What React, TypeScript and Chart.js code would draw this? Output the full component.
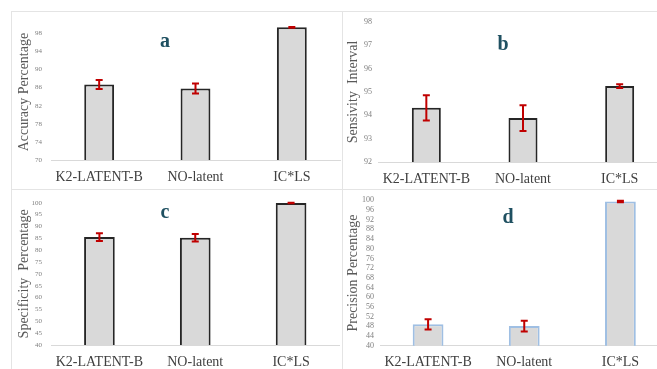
import React, { useEffect, useRef } from 'react';
import { Chart, registerables } from 'chart.js';
Chart.register(...registerables);

const categories = ['K2-LATENT-B', 'NO-latent', 'IC*LS'];

const accuracyValues = [86.7, 85.8, 99.3];
const accuracyErrors = [1.0, 1.1, 0.1];
const accuracyTicks = [70, 74, 78, 82, 86, 90, 94, 98];

const sensitivityValues = [94.32, 93.88, 95.25];
const sensitivityErrors = [0.54, 0.55, 0.08];
const sensitivityTicks = [92, 93, 94, 95, 96, 97, 98];

const specificityValues = [85.5, 85.2, 99.9];
const specificityErrors = [1.6, 1.6, 0.1];
const specificityTicks = [40, 45, 50, 55, 60, 65, 70, 75, 80, 85, 90, 95, 100];

const precisionValues = [48.8, 48.1, 99.5];
const precisionErrors = [2.1, 2.2, 0.3];
const precisionTicks = [40, 44, 48, 52, 56, 60, 64, 68, 72, 76, 80, 84, 88, 92, 96, 100];

const SERIF = '"Liberation Serif", "Times New Roman", serif';

type Panel = {
  letter: string;
  title: string;
  values: number[];
  errors: number[];
  ticks: number[];
  min: number;
  max: number;
  wrap: { left: number; top: number; width: number; height: number };
  canvasW: number;
  canvasH: number;
  padTop: number;
  padRight: number;
  yWidth: number;
  xHeight: number;
  titlePad: number;
  yTickPad: number;
  yTickSize: number;
  barPct: number;
  barBorder: string;
  letterPos: [number, number];
};

const panels: Panel[] = [
  {
    letter: 'a', title: 'Accuracy Percentage', values: accuracyValues, errors: accuracyErrors,
    ticks: accuracyTicks, min: 70, max: 100,
    wrap: { left: 11, top: 11, width: 332, height: 178 }, canvasW: 332, canvasH: 178,
    padTop: 5.4, padRight: 3, yWidth: 40, xHeight: 29, titlePad: 4.6, yTickPad: 9, yTickSize: 7,
    barPct: 0.31, barBorder: '#262626', letterPos: [154, 36.3],
  },
  {
    letter: 'b', title: 'Sensivity  Interval', values: sensitivityValues, errors: sensitivityErrors,
    ticks: sensitivityTicks, min: 92, max: 98,
    wrap: { left: 343, top: 11, width: 314, height: 178 }, canvasW: 330, canvasH: 178,
    padTop: 8, padRight: 5, yWidth: 35, xHeight: 27, titlePad: 1.6, yTickPad: 6, yTickSize: 8,
    barPct: 0.30, barBorder: '#262626', letterPos: [160, 39],
  },
  {
    letter: 'c', title: 'Specificity  Percentage', values: specificityValues, errors: specificityErrors,
    ticks: specificityTicks, min: 40, max: 100,
    wrap: { left: 11, top: 189, width: 332, height: 180 }, canvasW: 332, canvasH: 180,
    padTop: 11.3, padRight: 4, yWidth: 40.5, xHeight: 24, titlePad: 4.6, yTickPad: 9.5, yTickSize: 7,
    barPct: 0.32, barBorder: '#262626', letterPos: [154, 29.3],
  },
  {
    letter: 'd', title: 'Precision Percentage', values: precisionValues, errors: precisionErrors,
    ticks: precisionTicks, min: 40, max: 100,
    wrap: { left: 343, top: 189, width: 314, height: 180 }, canvasW: 330, canvasH: 180,
    padTop: 11.3, padRight: 4.5, yWidth: 37, xHeight: 23.3, titlePad: 1.6, yTickPad: 6, yTickSize: 8,
    barPct: 0.32, barBorder: '#9FBFE3', letterPos: [165, 33.7],
  },
];

function makeErrorPlugin(values: number[], errors: number[]) {
  return {
    id: 'errorBars',
    afterDatasetsDraw(chart: any) {
      const meta = chart.getDatasetMeta(0);
      const y = chart.scales.y;
      const ctx = chart.ctx;
      ctx.save();
      ctx.strokeStyle = '#C00000';
      ctx.lineWidth = 2;
      meta.data.forEach((bar: any, i: number) => {
        const x = bar.x;
        const top = y.getPixelForValue(values[i] + errors[i]);
        const bot = y.getPixelForValue(values[i] - errors[i]);
        ctx.beginPath();
        ctx.moveTo(x, top);
        ctx.lineTo(x, bot);
        ctx.moveTo(x - 3.5, top);
        ctx.lineTo(x + 3.5, top);
        ctx.moveTo(x - 3.5, bot);
        ctx.lineTo(x + 3.5, bot);
        ctx.stroke();
      });
      ctx.restore();
    },
  };
}

function makeLetterPlugin(letter: string, pos: [number, number]) {
  return {
    id: 'panelLetter',
    afterDraw(chart: any) {
      const ctx = chart.ctx;
      ctx.save();
      ctx.fillStyle = '#1F5061';
      ctx.font = `bold 20px ${SERIF}`;
      ctx.textAlign = 'center';
      ctx.textBaseline = 'alphabetic';
      ctx.fillText(letter, pos[0], pos[1]);
      ctx.restore();
    },
  };
}

function PanelChart({ p }: { p: Panel }) {
  const ref = useRef<HTMLCanvasElement>(null);
  useEffect(() => {
    if (!ref.current) return;
    const chart = new Chart(ref.current, {
      type: 'bar',
      data: {
        labels: categories,
        datasets: [
          {
            data: p.values,
            backgroundColor: '#D9D9D9',
            borderColor: p.barBorder,
            borderWidth: 2,
            borderSkipped: false,
            barPercentage: p.barPct,
            categoryPercentage: 1,
          },
        ],
      },
      options: {
        responsive: false,
        maintainAspectRatio: false,
        animation: false,
        devicePixelRatio: 1,
        layout: { padding: { left: 0, top: p.padTop, right: p.padRight, bottom: 0 } },
        plugins: { legend: { display: false }, tooltip: { enabled: false } },
        scales: {
          x: {
            grid: { display: false, drawTicks: false },
            border: { display: true, color: '#D9D9D9', width: 1 },
            ticks: {
              color: '#404040',
              font: { family: SERIF, size: 14 },
              padding: 8.6,
              maxRotation: 0,
              autoSkip: false,
            },
            afterFit: (scale: any) => {
              scale.height = p.xHeight;
            },
          },
          y: {
            min: p.min,
            max: p.max,
            grid: { display: false, drawTicks: false },
            border: { display: false },
            ticks: {
              color: '#7F7F7F',
              font: { family: SERIF, size: p.yTickSize },
              padding: p.yTickPad,
              autoSkip: false,
            },
            afterBuildTicks: (scale: any) => {
              scale.ticks = p.ticks.map((v) => ({ value: v }));
            },
            title: {
              display: true,
              text: p.title,
              color: '#595959',
              font: { family: SERIF, size: 14 },
              padding: { top: p.titlePad, bottom: 0 },
            },
            afterFit: (scale: any) => {
              scale.width = p.yWidth;
            },
          },
        },
      },
      plugins: [makeErrorPlugin(p.values, p.errors), makeLetterPlugin(p.letter, p.letterPos)],
    } as any);
    return () => chart.destroy();
  }, [p]);
  return (
    <div
      style={{
        position: 'absolute',
        left: p.wrap.left,
        top: p.wrap.top,
        width: p.wrap.width,
        height: p.wrap.height,
        overflow: 'hidden',
      }}
    >
      <canvas
        ref={ref}
        width={p.canvasW}
        height={p.canvasH}
        style={{ display: 'block', width: p.canvasW, height: p.canvasH }}
      />
    </div>
  );
}

const lineColor = '#E4E4E4';

export default function App() {
  return (
    <div
      style={{
        position: 'absolute',
        left: 0,
        top: 0,
        width: 657,
        height: 369,
        overflow: 'hidden',
        background: '#FFFFFF',
      }}
    >
      {panels.map((p) => (
        <PanelChart key={p.letter} p={p} />
      ))}
      <div style={{ position: 'absolute', left: 11, top: 11, width: 646, height: 1, background: lineColor }} />
      <div style={{ position: 'absolute', left: 11, top: 11, width: 1, height: 358, background: lineColor }} />
      <div style={{ position: 'absolute', left: 342, top: 11, width: 1, height: 358, background: lineColor }} />
      <div style={{ position: 'absolute', left: 11, top: 189, width: 646, height: 1, background: lineColor }} />
    </div>
  );
}
